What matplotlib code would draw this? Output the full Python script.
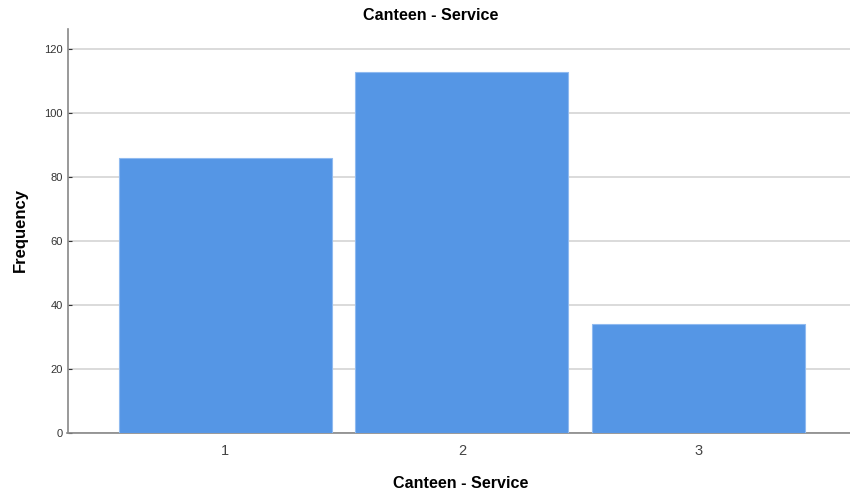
import matplotlib
matplotlib.use("Agg")
import matplotlib.pyplot as plt

categories = ["1", "2", "3"]
frequencies = [86, 113, 34]
y_ticks = [0, 20, 40, 60, 80, 100, 120]
title_text = "Canteen - Service"
x_label = "Canteen - Service"
y_label = "Frequency"

plt.rcParams['font.family'] = ['Liberation Sans', 'DejaVu Sans']

W, H = 850, 498
fig = plt.figure(figsize=(W / 100, H / 100), dpi=100)
ax = fig.add_axes([67.5 / W, (H - 433.3) / H, 1 - 67.5 / W, (433.3 - 29) / H])

x = list(range(1, len(categories) + 1))
ax.bar(x, frequencies, width=0.9, color="#5596E5", edgecolor="#8FBAF0", linewidth=0.8, zorder=3)

ax.set_xlim(0.333, 3.64)
ax.set_ylim(0, 126.3)
ax.set_yticks(y_ticks)
ax.set_xticks(x)
ax.set_xticklabels(categories)
ax.yaxis.grid(True, color="#D4D4D4", linewidth=1.2, zorder=0)
ax.set_axisbelow(True)

for s in ["top", "right"]:
    ax.spines[s].set_visible(False)
for s in ["left", "bottom"]:
    ax.spines[s].set_color("#888888")
    ax.spines[s].set_linewidth(1.2)

ax.tick_params(axis="y", labelsize=8, colors="#333333", length=3, direction="in", width=0.8)
ax.tick_params(axis="x", labelsize=10.5, colors="#444444", length=0, pad=8)

fig.text(430.5 / W, 1 - 16 / H, title_text, fontsize=11.6, fontweight="bold",
         ha="center", va="center")
fig.text(460.8 / W, 1 - 483 / H, x_label, fontsize=11.6, fontweight="bold",
         ha="center", va="center")
fig.text(20 / W, 1 - 230 / H, y_label, fontsize=12, fontweight="bold",
         ha="center", va="center", rotation=90)

fig.savefig("out.png", dpi=100)
